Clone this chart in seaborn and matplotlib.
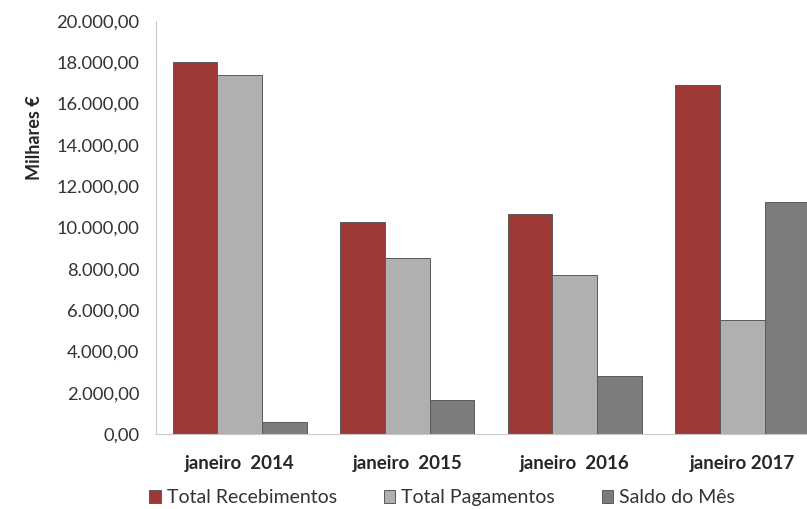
import matplotlib
matplotlib.use("Agg")
import matplotlib.pyplot as plt
import matplotlib.ticker as mticker
import seaborn as sns
import pandas as pd

# data (milhares de euros)
periodos = ["janeiro  2014", "janeiro  2015", "janeiro  2016", "janeiro 2017"]
series = ["Total Recebimentos", "Total Pagamentos", "Saldo do Mês"]
recebimentos = [18000, 10250, 10650, 16900]
pagamentos = [17400, 8520, 7720, 5520]
saldo = [600, 1650, 2830, 11230]
cores = ["#9c3937", "#b0b0b0", "#7c7c7c"]

df = pd.DataFrame({
    "periodo": periodos * 3,
    "serie": [s for s in series for _ in periodos],
    "valor": recebimentos + pagamentos + saldo,
})

sns.set_style("white")
plt.rcParams["font.family"] = ["Lato", "DejaVu Sans"]

fig = plt.figure(figsize=(8.07, 5.09), dpi=100)
ax = fig.add_axes([156 / 807, 75 / 509, 670 / 807, 413 / 509])

sns.barplot(data=df, x="periodo", y="valor", hue="serie", palette=cores,
            saturation=1, width=0.8, edgecolor="#5a5a5a", linewidth=0.7, ax=ax)

ax.set_xlim(-0.5, 3.5)
ax.set_ylim(0, 20000)
ax.set_yticks(range(0, 20001, 2000))
ax.yaxis.set_major_formatter(mticker.FuncFormatter(
    lambda v, p: f"{v:,.2f}".replace(",", "X").replace(".", ",").replace("X", ".")))
ax.tick_params(axis="y", labelsize=13.2, labelcolor="#333333", length=0, pad=12)
ax.tick_params(axis="x", labelsize=13.5, length=0, pad=15)
for t in ax.get_xticklabels():
    t.set_fontweight("bold")

ax.set_xlabel("")
ax.set_ylabel("Milhares €", fontsize=13, fontweight="bold")
ax.yaxis.set_label_coords(-0.168, 0.717)

for side in ["top", "right"]:
    ax.spines[side].set_visible(False)
ax.spines["left"].set_color("#c8c8c8")
ax.spines["bottom"].set_color("#c8c8c8")

handles, labels = ax.get_legend_handles_labels()
ax.get_legend().remove()
fig.legend(handles, labels, loc="lower center", bbox_to_anchor=(0.548, -0.029),
           ncol=3, frameon=False, fontsize=14, handlelength=0.6, handleheight=0.6,
           handletextpad=0.3, columnspacing=2.4, labelcolor="#333333")

fig.savefig("out.png", dpi=100)
